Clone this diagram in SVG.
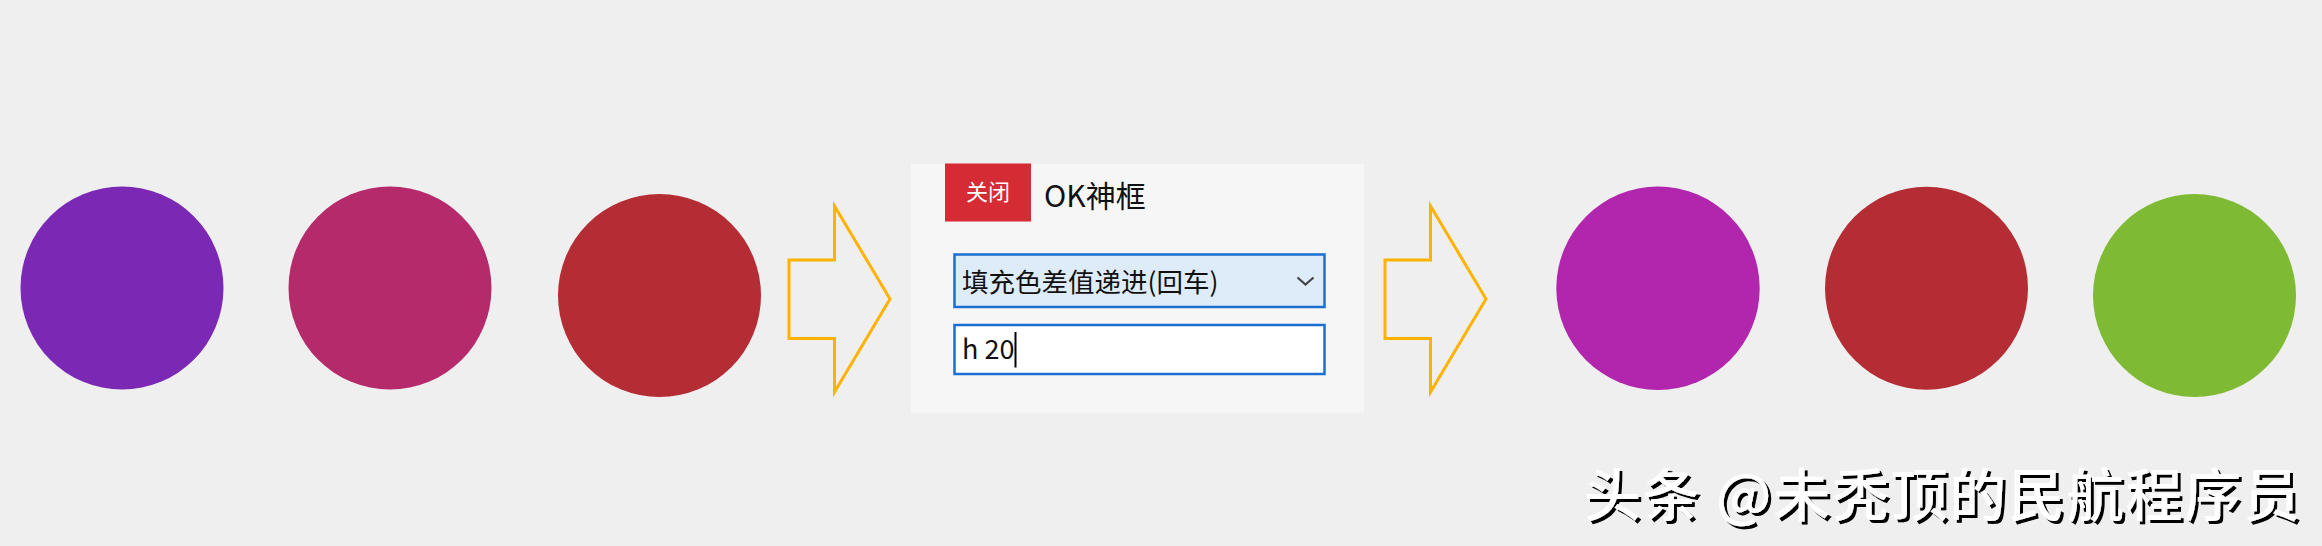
<svg xmlns="http://www.w3.org/2000/svg" width="2322" height="546" viewBox="0 0 2322 546">
<defs>
<style>
.cjk{font-family:"Noto Sans CJK SC","Noto Sans",sans-serif;}
.arrow{fill:none;stroke:#ffb300;stroke-width:3;stroke-linejoin:miter;}
.field{stroke:#1a6fd1;stroke-width:2.5;}
</style>
<filter id="shadow" x="-5%" y="-20%" width="110%" height="150%">
<feDropShadow dx="3" dy="3" stdDeviation="0.6" flood-color="#000" flood-opacity="1"/>
</filter>
</defs>
<rect x="0" y="0" width="2322" height="546" fill="#efefef"/>
<g id="circle1"><circle cx="122" cy="288" r="101.5" fill="#7b28b5"/></g>
<g id="circle2"><circle cx="390" cy="288" r="101.5" fill="#b52a6a"/></g>
<g id="circle3"><circle cx="659.5" cy="295.5" r="101.5" fill="#b52d34"/></g>
<g id="connectors">
<path class="arrow" d="M789,260 H834.5 V206 L890,299 L834.5,392 V338.5 H789 Z"/>
<path class="arrow" d="M1385,260 H1430.5 V206 L1486,299 L1430.5,392 V338.5 H1385 Z"/>
</g>
<g id="dialog">
<rect x="911" y="164" width="453" height="248.5" fill="#f6f6f6"/>
<rect x="945" y="163.5" width="86" height="58" fill="#d52b35"/>
<text class="cjk" x="988" y="200" font-size="22" fill="#ffffff" text-anchor="middle">关闭</text>
<text class="cjk" x="1044" y="207" font-size="30" fill="#111111">OK神框</text>
<rect class="field" x="954.5" y="254.5" width="370" height="52.5" fill="#deebf8"/>
<text class="cjk" x="962" y="292" font-size="26.5" fill="#111111">填充色差值递进(回车)</text>
<polyline points="1297.5,277.5 1305.5,284.5 1313.5,277.5" fill="none" stroke="#444444" stroke-width="2.2"/>
<rect class="field" x="954.5" y="325" width="370" height="49" fill="#ffffff"/>
<text class="cjk" x="962" y="359" font-size="27" fill="#111111">h 20</text>
<line x1="1015.5" y1="332" x2="1015.5" y2="367.5" stroke="#000000" stroke-width="2"/>
</g>
<g id="circle4"><circle cx="1658" cy="288.3" r="101.7" fill="#b225ad"/></g>
<g id="circle5"><circle cx="1926.5" cy="288.3" r="101.5" fill="#b52d34"/></g>
<g id="circle6"><circle cx="2194.5" cy="295.5" r="101.5" fill="#7fba34"/></g>
<g id="watermark">
<text class="cjk" x="1584" y="516" font-size="57" font-weight="500" fill="#ffffff" filter="url(#shadow)" textLength="716" lengthAdjust="spacing">头条 @未秃顶的民航程序员</text>
</g>
</svg>
